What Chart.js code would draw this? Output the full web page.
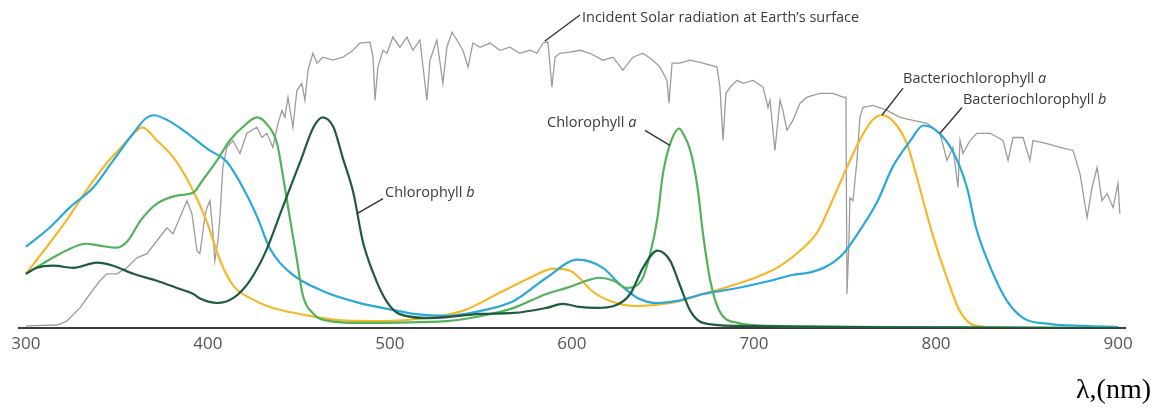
<!DOCTYPE html>
<html>
<head>
<meta charset="utf-8">
<script src="https://cdn.jsdelivr.net/npm/chart.js@4.4.0/dist/chart.umd.min.js"></script>
<style>
  html, body { margin: 0; padding: 0; background: #fff; }
</style>
</head>
<body>
<canvas id="spectra" width="1160" height="408"></canvas>
<script>
// wavelength ticks (nm)
const xTicks = [300, 400, 500, 600, 700, 800, 900];

// Bacteriochlorophyll b (blue)
const bchlBNm = [300, 313, 324, 337, 348, 359, 366, 370, 378, 388, 396, 401, 410, 418, 427, 434, 445, 463, 482, 500, 513, 531, 550, 568, 586, 603, 617, 626, 636, 647, 658, 672, 691, 709, 721, 731, 740, 749, 758, 768, 776, 786, 793, 800, 809, 817, 822, 830, 839, 848, 863, 881, 900];
const bchlBAbs = [27, 33.3, 40, 46.7, 55.7, 64.7, 69.7, 70.7, 69, 65, 61.3, 59, 55.5, 48, 37, 26.5, 18.5, 12.3, 8.5, 6.2, 4.7, 4, 5.7, 9, 16.7, 22.7, 20, 14.7, 10, 8.3, 9, 11.3, 13.3, 15.7, 17.6, 18.5, 20.5, 24.7, 32.3, 42.3, 53.3, 62.3, 67.3, 65.7, 59, 46.7, 33.3, 20, 9, 3.3, 1.3, 0.7, 0.3];

// Bacteriochlorophyll a (yellow)
const bchlANm = [300, 309, 322, 333, 344, 353, 358, 364, 372, 381, 389, 399, 407, 414, 423, 434, 452, 470, 491, 515, 540, 559, 577, 590, 599, 604, 611, 621, 636, 654, 672, 691, 703, 714, 725, 735, 743, 751, 758, 765, 770, 776, 784, 791, 798, 806, 813, 822, 845, 900];
const bchlAAbs = [18, 25, 35.5, 45.5, 54.5, 60.5, 63.8, 66.7, 62.3, 56.7, 49, 36, 22, 14, 10, 7, 4.5, 2.7, 2.3, 3, 5.7, 11.3, 16.7, 19.7, 19, 16.7, 12.3, 9, 7.3, 8.3, 11.3, 14.7, 17.3, 20.5, 25.5, 32, 42.3, 53.3, 62.3, 69, 70.7, 69, 61.3, 46.7, 31.3, 16.7, 5.7, 0.7, 0, 0];

// Chlorophyll a (green)
const chlANm = [300, 309, 322, 333, 341, 350, 356, 363, 372, 383, 392, 397, 405, 412, 419, 427, 432, 438, 441, 445, 449, 452, 458, 467, 482, 531, 550, 568, 586, 598, 608, 615, 623, 630, 638, 643, 647, 650, 654, 659, 661, 665, 669, 672, 676, 681, 691, 709, 800, 900];
const chlAAbs = [18, 21.3, 25.7, 28, 27.3, 26.7, 29, 35.7, 41.3, 44, 45, 49, 55.7, 62.3, 66.7, 70, 68, 61.3, 51.3, 36.7, 22.3, 11.3, 4.7, 2.3, 1.7, 2.3, 4, 6.7, 11.3, 13.5, 15.7, 16.7, 15.7, 13.3, 15.7, 24.7, 36.7, 51.3, 61.3, 66.3, 64.7, 59, 46.7, 31.3, 15.7, 5.7, 1.7, 0.7, 0.3, 0];

// Chlorophyll b (dark green)
const chlBNm = [300, 306, 315, 326, 339, 348, 359, 372, 383, 392, 396, 405, 414, 423, 432, 441, 451, 458, 463, 469, 474, 480, 485, 491, 498, 505, 522, 550, 568, 586, 595, 604, 614, 623, 632, 639, 647, 654, 659, 665, 672, 691, 900];
const chlBAbs = [18, 20, 20.7, 20, 21.7, 20.7, 18, 15.7, 13.3, 11.3, 9.7, 8.3, 10, 15.7, 25.7, 40, 55.7, 66.7, 70, 66.7, 56.7, 44.7, 29, 18, 9, 4.7, 3.3, 4.7, 5, 6.7, 8, 7, 6.7, 7.3, 11.3, 20, 25.7, 22.3, 14.7, 5.7, 1.7, 0.7, 0];

// solar irradiance at ground level (same arbitrary scale)
const solarNm = [300, 317, 322.5, 329.7, 335.2, 340.7, 344.5, 350, 355.5, 361, 366.5, 372, 377.5, 380.8, 384.6, 388.5, 391.2, 394, 395.6, 398.4,
  399.5, 401.1, 402.7, 403.8, 405.5, 406.6, 408.2, 410.4, 413.7, 417.6, 421.4, 426.9, 429.7, 432.4, 435.7, 438.5, 440.7, 442.3, 444, 446.7,
  448.9, 451.6, 453.3, 455, 457.7, 459.9, 463.2, 468.7, 474.2, 479.7, 483.5, 489, 490.7, 491.8, 493.4, 496.2, 498.4, 501.6, 505.5, 509.3,
  512.6, 516.5, 520.3, 522, 525.8, 529.1, 531.3, 534.1, 536.8, 540.1, 542.9, 545.6, 549.5, 555, 560.4, 565.9, 571.4, 576.9, 580.8, 584.1,
  586.8, 589, 590.7, 593.4, 598.9, 604.4, 609.9, 617, 622.5, 628, 633.5, 639, 644.5, 648.4, 652.2, 653.3, 655, 659.3, 664.8, 672,
  679.7, 681.3, 683, 684.6, 686.8, 690.7, 694, 699.5, 705, 707.7, 708.8, 711.5, 714.3, 715.9, 718.1, 721.4, 725.3, 729.1, 736.3, 743.4,
  748.9, 750.5, 751.1, 752.2, 752.7, 754.4, 756.6, 758.2, 759.9, 765.4, 773.1, 780.2, 787.4, 795.1, 802.2, 806, 809.3, 812.1, 813.2, 814.8,
  818.7, 822.5, 829.7, 836.8, 839.6, 842.3, 847.8, 851.6, 853.3, 861, 868.1, 875.3, 879.1, 883, 885.7, 888.5, 891.2, 894, 897.3, 900, 901];
const solarVal = [0.7, 1, 2.3, 6.7, 11.3, 15.7, 18, 18, 20, 23.3, 24.7, 29, 33.3, 31.3, 36.7, 42.3, 38, 25.7, 24.7, 37.3,
  40, 42.3, 32.3, 22.3, 29, 36.7, 53.3, 60, 62.3, 58, 64.7, 66.7, 63.3, 64.7, 60, 68, 72.3, 70, 76.7, 66.7,
  79, 81.3, 75.7, 85.7, 91.3, 88, 90, 89, 90, 92.3, 94.7, 95, 90, 75.7, 86.7, 92.3, 91.3, 96.7, 93.3, 96.7,
  92.3, 95.7, 75.7, 89, 95.7, 81.3, 93.3, 98.3, 95.7, 92.3, 86.7, 94.7, 93.3, 94.7, 92.3, 93.3, 91.3, 92.3, 91.3, 94.7,
  95, 80, 90, 91.3, 91.7, 92.3, 91.3, 89, 90, 85.7, 90, 91.3, 89, 86.7, 82.3, 74.7, 88, 88, 89, 88,
  86.7, 80, 62.3, 78, 80, 82.3, 81.3, 82.3, 80, 73.3, 75.7, 59, 75.7, 72.3, 65.7, 69, 74.7, 76.7, 78, 78,
  76.7, 76.7, 11.3, 29, 43.3, 42.3, 55.7, 70, 73.3, 74, 72.3, 70, 69, 68, 64.7, 55.7, 60, 46.7, 62.3, 58,
  62.3, 64.7, 64.7, 62.3, 55.7, 63.3, 63.3, 55.7, 62.3, 61.3, 60, 59, 51.3, 36.7, 46.7, 53.3, 42.3, 44.7, 40, 48, 38];

// callouts: leader from tip (on the curve) to end, text placed at `at` (nm, value)
const callouts = [
  { text: 'Incident Solar radiation at Earth\u2019s surface', tip: [585, 95.3], end: [604.4, 104], at: [605.5, 103] },
  { text: 'Chlorophyll ', italic: 'a', tip: [653.8, 60.7], end: [640.1, 65.7], at: [586.3, 68.3] },
  { text: 'Chlorophyll ', italic: 'b', tip: [481.9, 38], end: [496.2, 43], at: [497.3, 45] },
  { text: 'Bacteriochlorophyll ', italic: 'a', tip: [770.3, 70.7], end: [781.9, 79.7], at: [781.9, 82.7] },
  { text: 'Bacteriochlorophyll ', italic: 'b', tip: [802.2, 64.7], end: [814.3, 73.3], at: [814.8, 75.7] }
];

const toPoints = (xs, ys) => xs.map((x, i) => ({ x: x, y: ys[i] }));

function curve(label, xs, ys, color) {
  return {
    label: label,
    data: toPoints(xs, ys),
    borderColor: color,
    borderWidth: 2.2,
    pointRadius: 0,
    cubicInterpolationMode: 'monotone',
    fill: false
  };
}

const calloutPlugin = {
  id: 'callouts',
  afterDatasetsDraw(chart) {
    const ctx = chart.ctx;
    const xs = chart.scales.x, ys = chart.scales.y;
    ctx.save();
    ctx.strokeStyle = '#333';
    ctx.lineWidth = 1.4;
    ctx.fillStyle = '#3a3a3a';
    ctx.textBaseline = 'middle';
    ctx.textAlign = 'left';
    callouts.forEach(c => {
      ctx.beginPath();
      ctx.moveTo(xs.getPixelForValue(c.tip[0]), ys.getPixelForValue(c.tip[1]));
      ctx.lineTo(xs.getPixelForValue(c.end[0]), ys.getPixelForValue(c.end[1]));
      ctx.stroke();
      const tx = xs.getPixelForValue(c.at[0]);
      const ty = ys.getPixelForValue(c.at[1]);
      ctx.font = '14.5px "Open Sans"';
      ctx.fillText(c.text, tx, ty);
      if (c.italic) {
        const w = ctx.measureText(c.text).width;
        ctx.font = 'italic 14.5px "Open Sans"';
        ctx.fillText(c.italic, tx + w, ty);
      }
    });
    // axis unit
    ctx.fillStyle = '#000';
    ctx.textAlign = 'right';
    ctx.textBaseline = 'alphabetic';
    ctx.font = '28px "Liberation Serif"';
    ctx.fillText('\u03bb,(nm)', 1151, 398);
    ctx.restore();
  }
};

new Chart(document.getElementById('spectra'), {
  type: 'line',
  data: {
    datasets: [
      curve('Chlorophyll b', chlBNm, chlBAbs, '#1f5c3e'),
      curve('Chlorophyll a', chlANm, chlAAbs, '#52b25a'),
      curve('Bacteriochlorophyll b', bchlBNm, bchlBAbs, '#2aa8da'),
      curve('Bacteriochlorophyll a', bchlANm, bchlAAbs, '#f4b82c'),
      {
        label: 'Solar',
        data: toPoints(solarNm, solarVal),
        borderColor: '#9c9c9c',
        borderWidth: 1.3,
        pointRadius: 0,
        tension: 0,
        fill: false
      }
    ]
  },
  options: {
    responsive: false,
    animation: false,
    devicePixelRatio: 1,
    layout: { padding: { left: 18.6, right: 34.7, top: 0, bottom: 0 } },
    plugins: { legend: { display: false }, tooltip: { enabled: false } },
    scales: {
      x: {
        type: 'linear',
        min: 296,
        max: 904,
        afterBuildTicks: s => { s.ticks = xTicks.map(v => ({ value: v })); },
        afterFit: s => { s.height = 80; },
        grid: { display: false, drawTicks: false },
        border: { display: true, color: '#3d3d3d', width: 2 },
        ticks: {
          color: '#555',
          font: { family: 'Open Sans', size: 17 },
          padding: 6,
          maxRotation: 0,
          autoSkip: false
        }
      },
      y: { display: false, min: 0, max: 109 }
    }
  },
  plugins: [calloutPlugin]
});
</script>
</body>
</html>
